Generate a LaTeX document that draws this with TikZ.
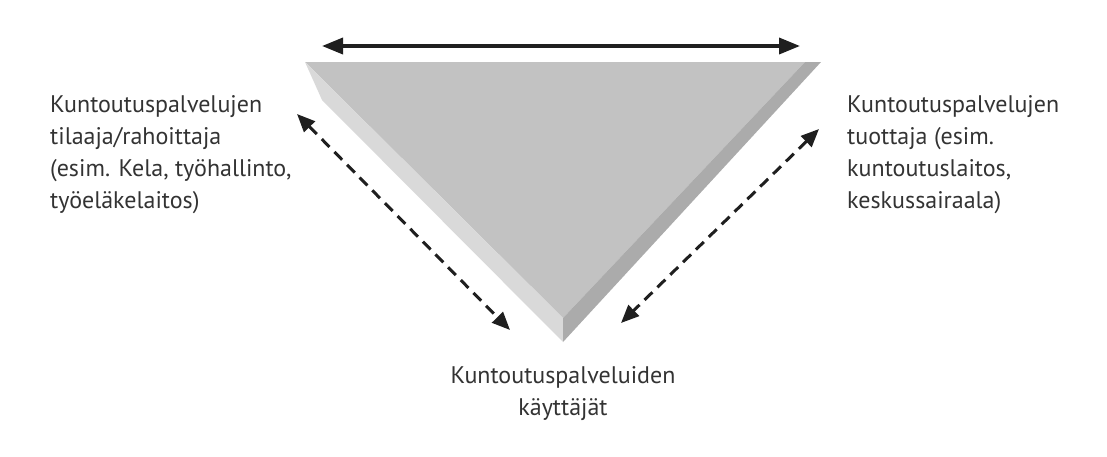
\documentclass[tikz,border=0pt]{standalone}
\usepackage{fontspec}
\setmainfont{PT Sans}
\usetikzlibrary{arrows.meta}

\begin{document}
\begin{tikzpicture}[x=1pt,y=-1pt,
  caption/.style={inner sep=0pt, text=black!80, align=left,
    font=\fontsize{24}{32}\selectfont},
  link/.style={line width=3pt, black!88, dash pattern=on 11pt off 7pt,
    {Triangle[length=18pt,width=15pt]}-{Triangle[length=18pt,width=15pt]}},
  span/.style={line width=3.6pt, black!88,
    {Triangle[length=21pt,width=16pt]}-{Triangle[length=21pt,width=16pt]}}]
\useasboundingbox (0,0) rectangle (1107,456);
% prism
\coordinate (tl) at (305,62);
\coordinate (tr) at (805,62);
\coordinate (trr) at (821,62);
\coordinate (tv) at (563,318);
\coordinate (bl) at (322,100);
\coordinate (bv) at (563,342);
\fill[black!24] (tl) -- (tr) -- (tv) -- cycle;
\fill[black!15] (tl) -- (tv) -- (bv) -- (bl) -- cycle;
\fill[black!33] (tr) -- (trr) -- (bv) -- (tv) -- cycle;
% texts
\node[caption, anchor=north west] (buyer) at (50,95)
  {Kuntoutuspalvelujen\\tilaaja/rahoittaja\\(esim. Kela, työhallinto,\\työeläkelaitos)};
\node[caption, anchor=north west] (provider) at (847,95)
  {Kuntoutuspalvelujen\\tuottaja (esim.\\kuntoutuslaitos,\\keskussairaala)};
\node[caption, align=center, anchor=north] (users) at (563,366)
  {Kuntoutuspalveluiden\\käyttäjät};
% arrows
\coordinate (spanl) at (322,46);
\coordinate (spanr) at (800,46);
\coordinate (buyerend) at (297,114);
\coordinate (userl) at (510,330);
\coordinate (providerend) at (819,129);
\coordinate (userr) at (621,323);
\draw[span] (spanl) -- (spanr);
\draw[link] (buyerend) -- (userl);
\draw[link] (providerend) -- (userr);
\end{tikzpicture}
\end{document}
